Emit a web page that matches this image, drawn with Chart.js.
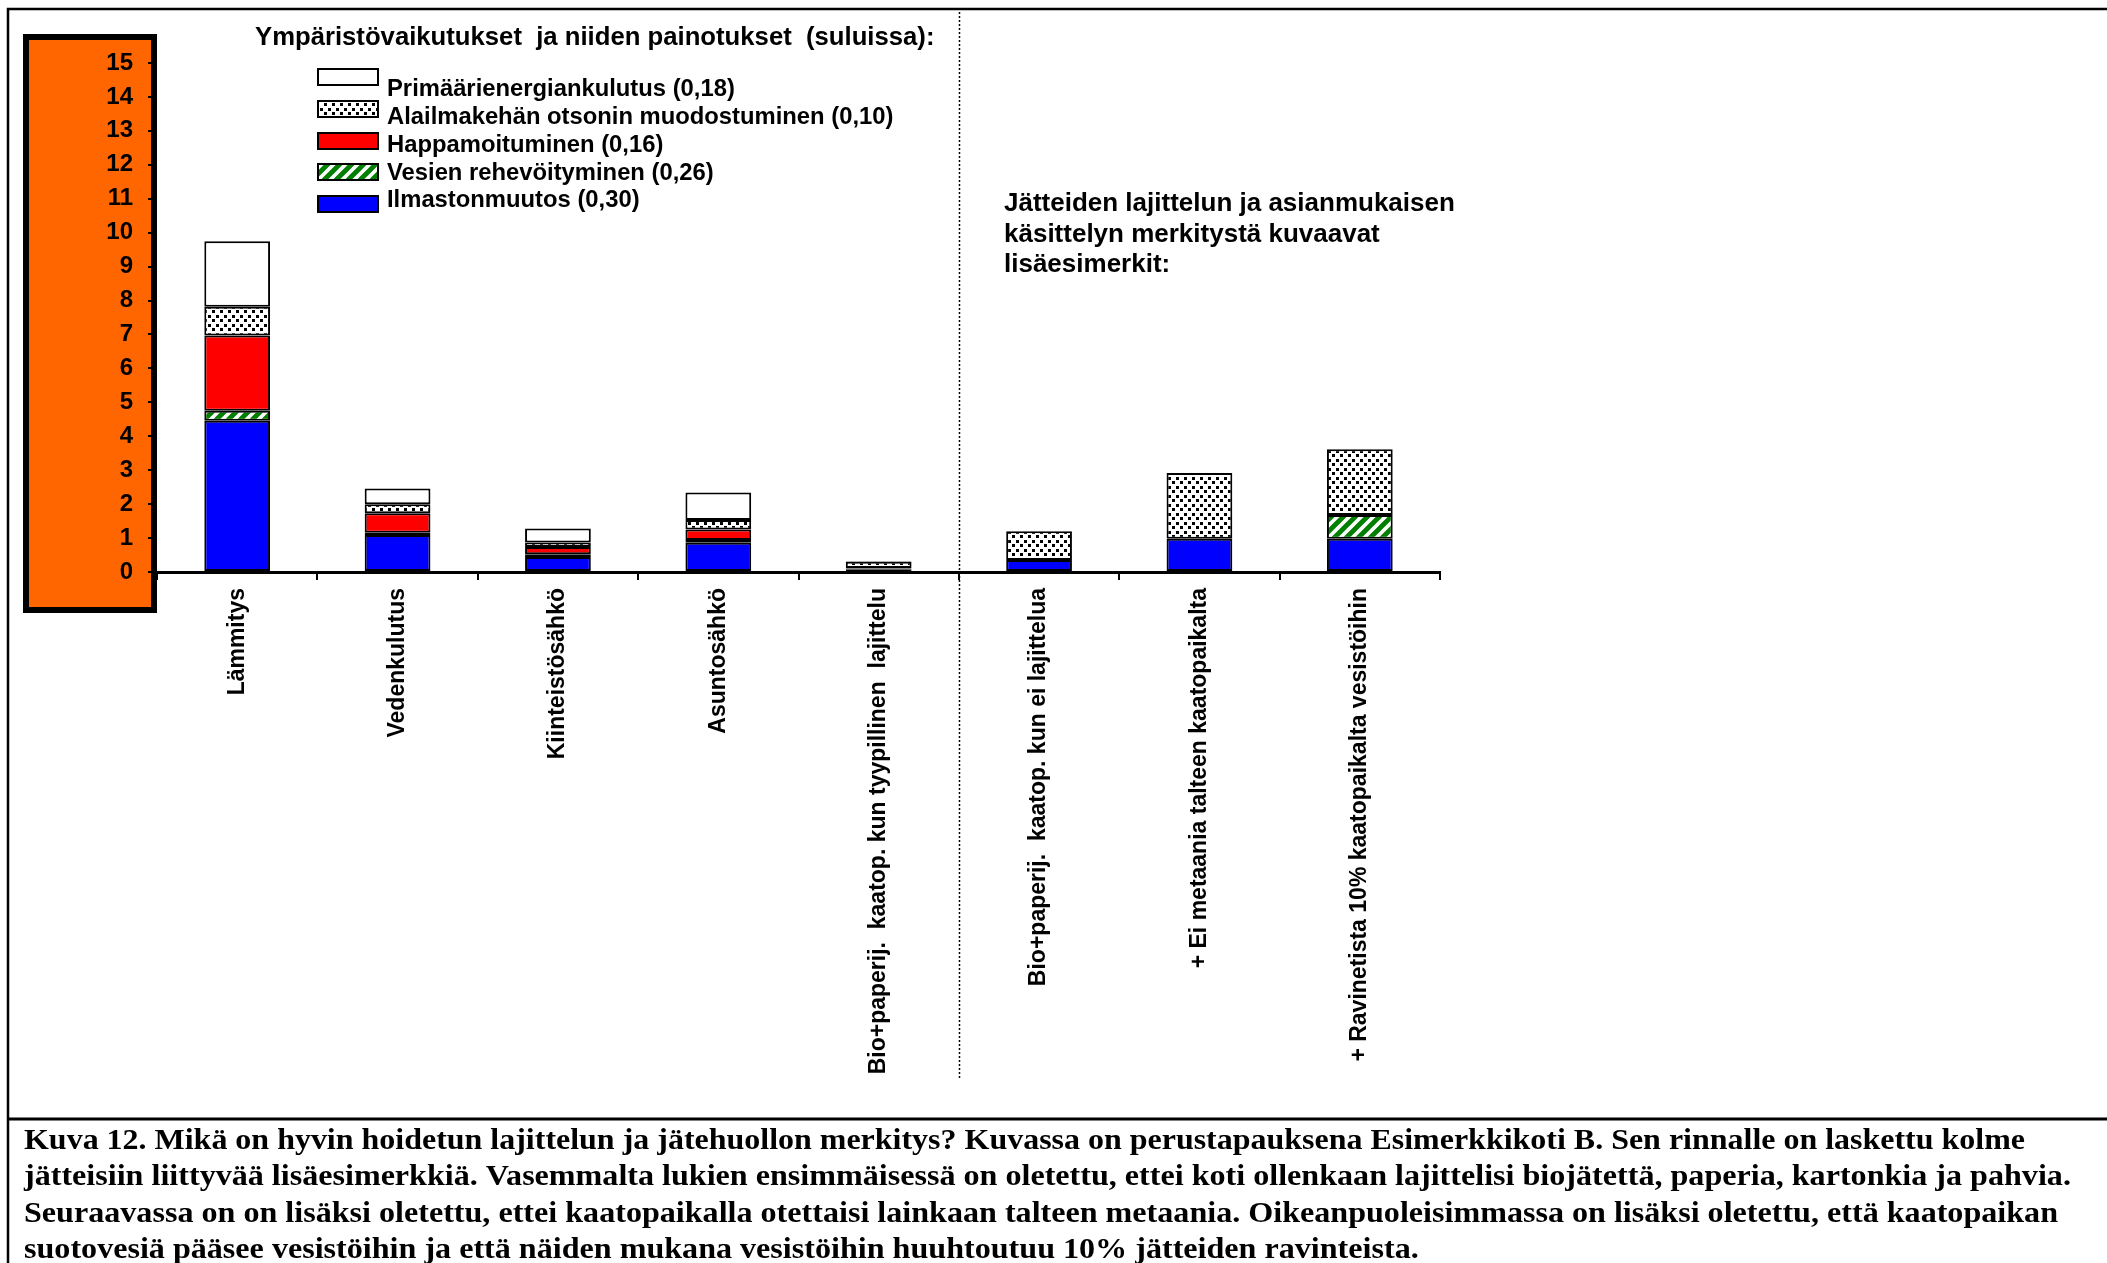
<!DOCTYPE html>
<html lang="fi">
<head>
<meta charset="utf-8">
<title>Kuva 12</title>
<script src="https://cdn.jsdelivr.net/npm/chart.js@4.4.1/dist/chart.umd.min.js"></script>
<style>
  html, body { margin: 0; padding: 0; background: #fff; }
  #wrap { position: relative; width: 2107px; height: 1263px; overflow: hidden; }
  canvas { display: block; }
</style>
</head>
<body>
<div id="wrap"><canvas id="chart" width="2107" height="1263"></canvas></div>
<script>
// Categories (x axis)
const categories = [
  "Lämmitys",
  "Vedenkulutus",
  "Kiinteistösähkö",
  "Asuntosähkö",
  "Bio+paperij.  kaatop. kun tyypillinen  lajittelu",
  "Bio+paperij.  kaatop. kun ei lajittelua",
  "+ Ei metaania talteen kaatopaikalta",
  "+ Ravinetista 10% kaatopaikalta vesistöihin"
];

// Weighted impact per category, stacked from the bottom up
const ilmastonmuutos     = [4.46, 1.09, 0.44, 0.86, 0.08, 0.35, 0.98, 0.98];
const rehevoityminen     = [0.29, 0.07, 0.08, 0.08, 0.02, null, null, 0.70];
const happamoituminen    = [2.22, 0.57, 0.22, 0.31, 0.02, null, null, null];
const otsoni             = [0.85, 0.27, 0.13, 0.28, 0.18, 0.85, 1.94, 1.94];
const primaarienergia    = [1.93, 0.46, 0.41, 0.81, 0.02, null, null, null];

// Series names with their weights
const seriesNames = [
  "Ilmastonmuutos (0,30)",
  "Vesien rehevöityminen (0,26)",
  "Happamoituminen (0,16)",
  "Alailmakehän otsonin muodostuminen (0,10)",
  "Primäärienergiankulutus (0,18)"
];

// Y axis ticks
const yTicks = [0, 1, 2, 3, 4, 5, 6, 7, 8, 9, 10, 11, 12, 13, 14, 15];

const legendTitle = "Ympäristövaikutukset  ja niiden painotukset  (suluissa):";
const noteLines = [
  "Jätteiden lajittelun ja asianmukaisen",
  "käsittelyn merkitystä kuvaavat",
  "lisäesimerkit:"
];
const captionLines = [
  "Kuva 12. Mikä on hyvin hoidetun lajittelun ja jätehuollon merkitys? Kuvassa on perustapauksena Esimerkkikoti B. Sen rinnalle on laskettu kolme",
  "jätteisiin liittyvää lisäesimerkkiä. Vasemmalta lukien ensimmäisessä on oletettu, ettei koti ollenkaan lajittelisi biojätettä, paperia, kartonkia ja pahvia.",
  "Seuraavassa on on lisäksi oletettu, ettei kaatopaikalla otettaisi lainkaan talteen metaania. Oikeanpuoleisimmassa on lisäksi oletettu, että kaatopaikan",
  "suotovesiä pääsee vesistöihin ja että näiden mukana vesistöihin huuhtoutuu 10% jätteiden ravinteista."
];

const SANS = '"Liberation Sans", Arial, sans-serif';
const SERIF = '"Liberation Serif", "Times New Roman", serif';

// Fill patterns
function dotPattern() {
  const c = document.createElement('canvas');
  c.width = 8; c.height = 9;
  const g = c.getContext('2d');
  g.fillStyle = '#fff'; g.fillRect(0, 0, 8, 9);
  g.fillStyle = '#000';
  g.fillRect(0, 0, 3, 3);
  g.fillRect(4, 4, 3, 3);
  return g.createPattern(c, 'repeat');
}
function hatchPattern() {
  const c = document.createElement('canvas');
  c.width = 12; c.height = 12;
  const g = c.getContext('2d');
  g.fillStyle = '#fff'; g.fillRect(0, 0, 12, 12);
  g.strokeStyle = '#008000';
  g.lineWidth = 4.8;
  g.beginPath();
  g.moveTo(-6, 6); g.lineTo(6, -6);
  g.moveTo(0, 12); g.lineTo(12, 0);
  g.moveTo(6, 18); g.lineTo(18, 6);
  g.stroke();
  return g.createPattern(c, 'repeat');
}

const fills = ['#0000FF', hatchPattern(), '#FF0000', dotPattern(), '#FFFFFF'];
const seriesData = [ilmastonmuutos, rehevoityminen, happamoituminen, otsoni, primaarienergia];

const datasets = seriesData.map((d, i) => ({
  label: seriesNames[i],
  data: d,
  backgroundColor: fills[i],
  borderColor: '#000',
  borderWidth: 2,
  borderSkipped: false,
  barPercentage: 0.41,
  categoryPercentage: 1.0
}));

// Text drawn slightly widened, optionally fitted to a width
function wideText(ctx, text, x, y, stretch, fitWidth) {
  ctx.save();
  ctx.translate(x, y);
  let sx = stretch;
  if (fitWidth) sx = fitWidth / ctx.measureText(text).width;
  ctx.scale(sx, 1);
  ctx.fillText(text, 0, 0);
  ctx.restore();
}

// Caption line widths (only the first line is set tighter)
const captionFit = [2001, 0, 0, 0];

// Frame, orange axis panel, legend, notes and caption
const decor = {
  id: 'decor',
  beforeDraw(chart) {
    const ctx = chart.ctx;
    ctx.save();
    ctx.fillStyle = '#fff';
    ctx.fillRect(0, 0, chart.width, chart.height);
    ctx.fillStyle = '#FF6600';
    ctx.fillRect(26, 37, 128, 573);
    ctx.lineWidth = 6;
    ctx.strokeStyle = '#000';
    ctx.strokeRect(26, 37, 128, 573);
    ctx.restore();
  },
  afterDraw(chart) {
    const ctx = chart.ctx;
    const xs = chart.scales.x;
    ctx.save();

    // outer frame
    ctx.strokeStyle = '#000';
    ctx.lineWidth = 2.5;
    ctx.beginPath();
    ctx.moveTo(8, chart.height); ctx.lineTo(8, 9); ctx.lineTo(chart.width, 9);
    ctx.stroke();
    ctx.lineWidth = 3;
    ctx.beginPath();
    ctx.moveTo(8, 1119); ctx.lineTo(chart.width, 1119);
    ctx.stroke();

    // dotted divider between base case and additional examples
    const divX = Math.round((xs.getPixelForValue(4) + xs.getPixelForValue(5)) / 2) + 0.5;
    ctx.lineWidth = 1.5;
    ctx.setLineDash([2, 2]);
    ctx.beginPath();
    ctx.moveTo(divX, 12); ctx.lineTo(divX, 1078);
    ctx.stroke();
    ctx.setLineDash([]);

    // legend
    ctx.fillStyle = '#000';
    ctx.textBaseline = 'middle';
    ctx.textAlign = 'left';
    ctx.font = 'bold 25.7px ' + SANS;
    ctx.fillText(legendTitle, 255, 38);

    const swatchY = [77, 109, 141, 172, 204];
    const textY = [89, 117, 145, 173, 200];
    const order = [4, 3, 2, 1, 0];
    ctx.font = 'bold 23.8px ' + SANS;
    order.forEach((di, row) => {
      const ds = chart.data.datasets[di];
      ctx.fillStyle = ds.backgroundColor;
      ctx.fillRect(318, swatchY[row] - 8, 60, 16);
      ctx.lineWidth = 2;
      ctx.strokeStyle = '#000';
      ctx.strokeRect(318, swatchY[row] - 8, 60, 16);
      ctx.fillStyle = '#000';
      ctx.fillText(ds.label, 387, textY[row]);
    });

    // note on the additional examples
    ctx.font = 'bold 26px ' + SANS;
    noteLines.forEach((t, i) => ctx.fillText(t, 1004, 204 + i * 30.5));

    // figure caption
    ctx.font = 'bold 30px ' + SERIF;
    ctx.textBaseline = 'alphabetic';
    captionLines.forEach((t, i) => wideText(ctx, t, 24, 1149 + i * 36.3, 1.07, captionFit[i]));

    ctx.restore();
  }
};

new Chart(document.getElementById('chart'), {
  type: 'bar',
  data: { labels: categories, datasets },
  options: {
    responsive: false,
    animation: false,
    devicePixelRatio: 1,
    layout: { padding: { left: 0, top: 63, right: 667, bottom: 171 } },
    plugins: { legend: { display: false }, tooltip: { enabled: false } },
    scales: {
      x: {
        stacked: true,
        afterFit(s) { s.height = 520; },
        grid: { display: true, drawOnChartArea: false, drawTicks: true, tickLength: 8, lineWidth: 2, color: '#000', offset: true },
        border: { display: true, color: '#000', width: 3 },
        ticks: {
          autoSkip: false, maxRotation: 90, minRotation: 90, padding: 8, color: '#000',
          font: { family: SANS, size: 23, weight: 'bold' }
        }
      },
      y: {
        stacked: true,
        min: yTicks[0],
        max: yTicks[yTicks.length - 1],
        afterFit(s) { s.width = 157; },
        afterBuildTicks(s) { s.ticks = yTicks.map(v => ({ value: v })); },
        grid: { display: true, drawOnChartArea: false, drawTicks: true, tickLength: 9, lineWidth: 2, color: '#000' },
        border: { display: false },
        ticks: { padding: 15, color: '#000', font: { family: SANS, size: 24, weight: 'bold' } }
      }
    }
  },
  plugins: [decor]
});
</script>
</body>
</html>
